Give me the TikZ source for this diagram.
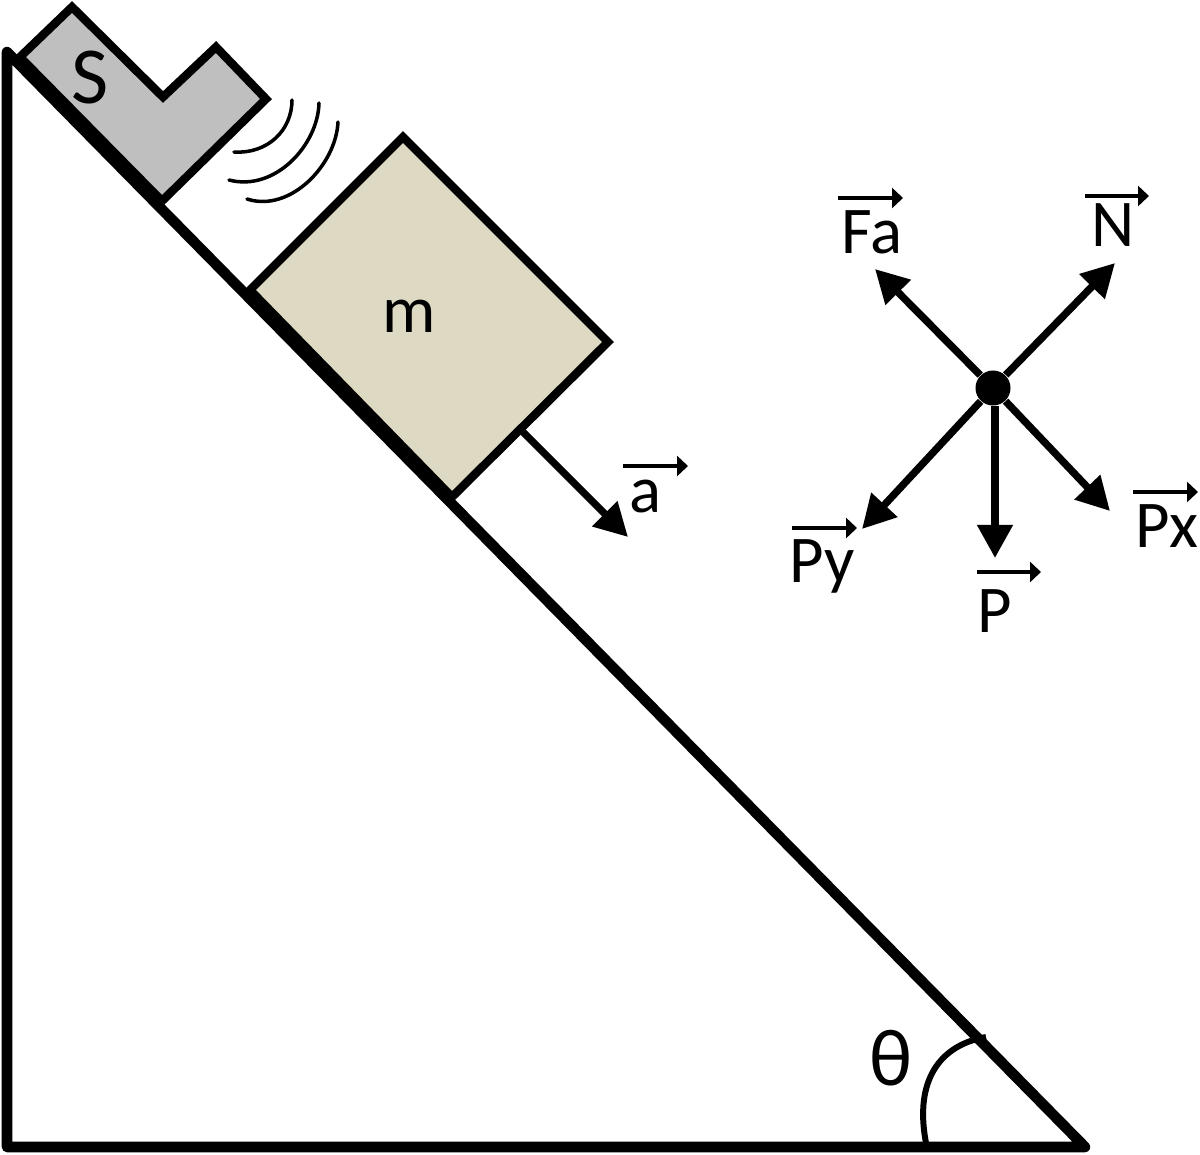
\documentclass[tikz,border=0pt]{standalone}
\usepackage{fontspec}
\setmainfont{Carlito}
\usetikzlibrary{arrows.meta}
\definecolor{sensorgray}{HTML}{BFBFBF}
\definecolor{blockkhaki}{HTML}{DDD9C3}
\tikzset{
  label text/.style={font=\fontsize{19}{22}\selectfont,anchor=base},
  big text/.style={font=\fontsize{23}{26}\selectfont,anchor=base},
  incline/.style={black,line width=3pt,line join=round,line cap=round},
  body/.style={draw=black,line width=2.4pt,line join=miter},
  force/.style={black,line width=2.1pt,-{Triangle[length=.33cm,width=.34cm]}},
  overbar/.style={black,line width=1.1pt,-{Triangle[length=.11cm,width=.2cm]}},
  wave/.style={black,line width=1pt,line cap=round}
}
\begin{document}
\begin{tikzpicture}[x=0.01cm,y=0.01cm]
\tikzstyle{every node}+=[inner sep=0pt]
\useasboundingbox (0,0) rectangle (1200,-1154);
% slope
\coordinate (top) at (7,-52);
\coordinate (corner) at (7,-1147);
\coordinate (foot) at (1085,-1147);
\draw [incline] (top) -- (corner) -- (foot) -- cycle;
% angle
\coordinate (angleA) at (926,-1143);
\coordinate (angleB) at (986,-1037);
\draw [black,line width=1.7pt] (angleA) .. controls (914,-1080) and (940,-1045) .. (angleB);
\node [big text] (theta) at (891,-1085) {θ};
% sensor
\draw [body,fill=sensorgray] (20,-57) -- (72,-7) -- (163,-97) -- (216,-47) -- (266,-99) -- (162,-201) -- cycle;
\node [big text] (sensor) at (90,-103) {S};
\draw [wave] (292,-100) .. controls (292,-130) and (268,-154) .. (234,-152);
\draw [wave] (319,-103) .. controls (318,-145) and (275,-192) .. (229,-180);
\draw [wave] (338,-122) .. controls (336,-165) and (290,-213) .. (247,-199);
% block
\draw [body,fill=blockkhaki] (250,-290) -- (403,-137) -- (608,-342) -- (452,-497) -- cycle;
\node [label text] (block) at (409,-332) {m};
\coordinate (aStart) at (523,-432);
\coordinate (aTip) at (628,-537);
\draw [force] (aStart) -- (aTip);
\node [label text] (acc) at (645,-512) {a};
\draw [overbar] (623,-466) -- (688,-466);
% forces
\node [circle,fill=black,minimum size=.35cm] (dot) at (993,-388) {};
\coordinate (faTip) at (875,-269);
\coordinate (nTip) at (1115,-263);
\coordinate (pyTip) at (862,-529);
\coordinate (pTip) at (995,-558);
\coordinate (pxTip) at (1110,-511);
\draw [force] (dot) -- (faTip);
\draw [force] (dot) -- (nTip);
\draw [force] (dot) -- (pyTip);
\draw [force] (dot.south -| pTip) -- (pTip);
\draw [force] (dot) -- (pxTip);
\node [label text] (fa) at (872,-253) {Fa};
\draw [overbar] (838,-198) -- (903,-198);
\node [label text] (n) at (1113,-246) {N};
\draw [overbar] (1085,-196) -- (1149,-196);
\node [label text] (py) at (822,-582) {Py};
\draw [overbar] (792,-528) -- (857,-528);
\node [label text] (p) at (995,-632) {P};
\draw [overbar] (977,-572) -- (1041,-572);
\node [label text] (px) at (1167,-547) {Px};
\draw [overbar] (1133,-492) -- (1198,-492);
\end{tikzpicture}
\end{document}
